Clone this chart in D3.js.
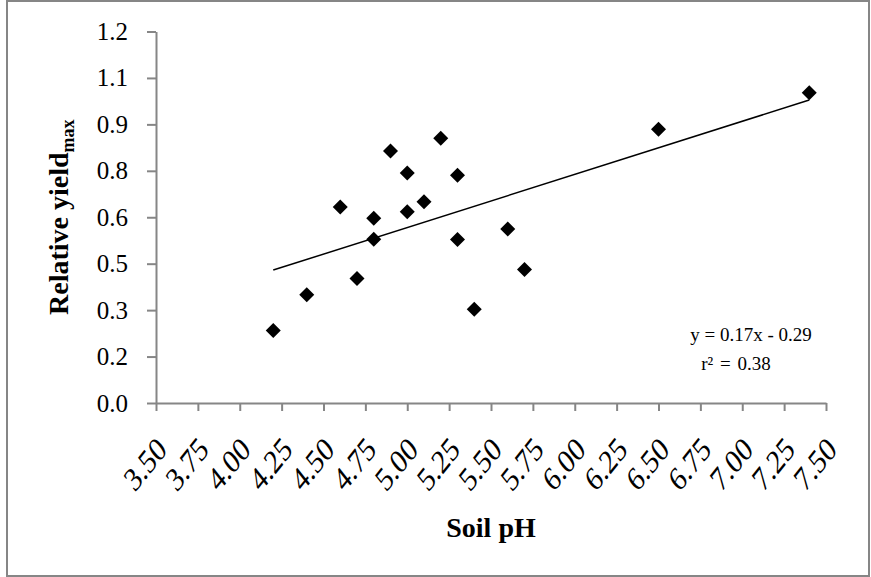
<!DOCTYPE html>
<html>
<head>
<meta charset="utf-8">
<script src="https://cdn.jsdelivr.net/npm/d3@7"></script>
<style>
  html, body { margin: 0; padding: 0; background: #fff; }
  svg { display: block; font-family: 'Liberation Serif', 'Times New Roman', serif; }
</style>
</head>
<body>
<div id="chart"></div>
<script>
// data
const soilPH = [4.2, 4.4, 4.6, 4.7, 4.8, 4.8, 4.9, 5.0, 5.0, 5.1, 5.2, 5.3, 5.3, 5.4, 5.6, 5.7, 6.5, 7.4];
const relYield = [0.234, 0.350, 0.633, 0.402, 0.597, 0.529, 0.814, 0.743, 0.618, 0.650, 0.855, 0.736, 0.528, 0.303, 0.562, 0.431, 0.884, 1.002];

// axes
const xTicks = [3.5, 3.75, 4.0, 4.25, 4.5, 4.75, 5.0, 5.25, 5.5, 5.75, 6.0, 6.25, 6.5, 6.75, 7.0, 7.25, 7.5];
const yTicks = [0, 0.15, 0.3, 0.45, 0.6, 0.75, 0.9, 1.05, 1.2];
const yTickLabels = ['0.0', '0.2', '0.3', '0.5', '0.6', '0.8', '0.9', '1.1', '1.2'];

// labels
const xTitle = 'Soil pH';
const yTitle = 'Relative yield';
const ySub = 'max';
const eqLabel = 'y = 0.17x - 0.29';
const r2Label = 'r² = 0.38';

const width = 871;
const height = 577;
const margin = { top: 31.5, right: 45, bottom: 174, left: 156 };
const axisColor = '#868686';

const svg = d3.select('#chart')
  .append('svg')
  .attr('width', width)
  .attr('height', height);

// outer chart border
svg.append('rect')
  .attr('x', 7)
  .attr('y', 1)
  .attr('width', 862)
  .attr('height', 575)
  .attr('fill', '#fff')
  .attr('stroke', axisColor)
  .attr('stroke-width', 2);

const x = d3.scaleLinear()
  .domain([3.5, 7.5])
  .range([margin.left, width - margin.right]);

const y = d3.scaleLinear()
  .domain([0, 1.2])
  .range([height - margin.bottom, margin.top]);

// y axis
svg.append('g')
  .attr('transform', `translate(${margin.left},0)`)
  .call(d3.axisLeft(y)
    .tickValues(yTicks)
    .tickFormat((d, i) => yTickLabels[i])
    .tickSize(9)
    .tickSizeOuter(0)
    .tickPadding(19))
  .call((g) => g.select('.domain').attr('stroke', axisColor).attr('stroke-width', 2))
  .call((g) => g.selectAll('.tick line').attr('stroke', axisColor).attr('stroke-width', 2))
  .call((g) => g.selectAll('.tick text')
    .attr('fill', '#000')
    .attr('font-family', "'Liberation Serif', serif")
    .attr('font-size', 25));

// x axis, labels slanted
svg.append('g')
  .attr('transform', `translate(0,${height - margin.bottom})`)
  .call(d3.axisBottom(x)
    .tickValues(xTicks)
    .tickFormat(d3.format('.2f'))
    .tickSize(8)
    .tickSizeOuter(0))
  .call((g) => g.select('.domain').attr('stroke', axisColor).attr('stroke-width', 2))
  .call((g) => g.selectAll('.tick line').attr('stroke', axisColor).attr('stroke-width', 2))
  .call((g) => g.selectAll('.tick text')
    .attr('fill', '#000')
    .attr('font-family', "'Liberation Serif', serif")
    .attr('font-size', 27)
    .attr('text-anchor', 'end')
    .attr('y', 0)
    .attr('dy', '0.35em')
    .attr('transform', 'translate(5,40) scale(1,1.25) rotate(-45)'));

// least squares trendline
const n = soilPH.length;
const mx = d3.mean(soilPH);
const my = d3.mean(relYield);
const sxy = d3.sum(soilPH, (d, i) => (d - mx) * (relYield[i] - my));
const sxx = d3.sum(soilPH, (d) => (d - mx) ** 2);
const slope = sxy / sxx;
const intercept = my - slope * mx;
const [x0, x1] = d3.extent(soilPH);

svg.append('line')
  .attr('x1', x(x0))
  .attr('y1', y(slope * x0 + intercept))
  .attr('x2', x(x1))
  .attr('y2', y(slope * x1 + intercept))
  .attr('stroke', '#000')
  .attr('stroke-width', 1.5);

// diamond markers
const diamond = (r) => `M0,${-r}L${r},0L0,${r}L${-r},0Z`;

svg.append('g')
  .selectAll('path')
  .data(d3.range(n))
  .join('path')
  .attr('transform', (i) => `translate(${x(soilPH[i])},${y(relYield[i])})`)
  .attr('d', diamond(7.5))
  .attr('fill', '#000');

// equation label
svg.append('text')
  .attr('x', 751)
  .attr('y', 341)
  .attr('text-anchor', 'middle')
  .attr('font-size', 19)
  .text(eqLabel);

svg.append('text')
  .attr('x', 736)
  .attr('y', 370)
  .attr('text-anchor', 'middle')
  .attr('font-size', 19)
  .attr('word-spacing', 2)
  .text(r2Label);

// axis titles
svg.append('text')
  .attr('x', (margin.left + width - margin.right) / 2)
  .attr('y', 537)
  .attr('text-anchor', 'middle')
  .attr('font-weight', 'bold')
  .attr('font-size', 28)
  .text(xTitle);

const yt = svg.append('text')
  .attr('transform', `translate(68,${(y(0) + y(1.2)) / 2}) rotate(-90)`)
  .attr('text-anchor', 'middle')
  .attr('font-weight', 'bold')
  .attr('font-size', 28);

yt.append('tspan').text(yTitle);
yt.append('tspan')
  .attr('dy', 6)
  .attr('font-size', 18)
  .text(ySub);
</script>
</body>
</html>
